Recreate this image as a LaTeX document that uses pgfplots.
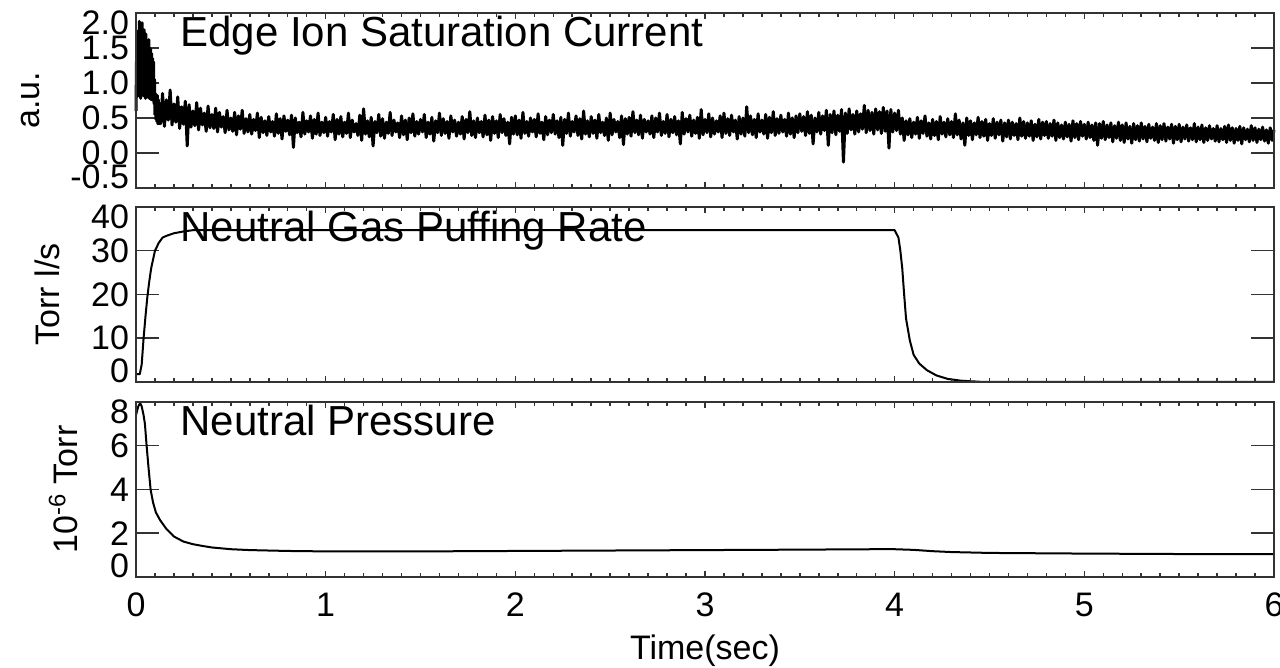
\documentclass[border=0pt]{standalone}
\usepackage{pgfplots}
\pgfplotsset{compat=1.18}
\usepackage{pgfplotstable}
\usepackage{fontspec}
\setmainfont{Liberation Sans}
\newcommand\dn[1]{\raisebox{-4.75pt}[\height][\depth]{#1}}
\newcommand\up[1]{\raisebox{5.5pt}[\height][\depth]{#1}}
% Edge ion saturation current, from t = 0.12 s in steps of 0.01 s
\pgfplotstableread[header=false,row sep=\\]{
0.72\\0.42\\0.85\\0.38\\0.76\\0.47\\0.90\\0.40\\
0.70\\0.44\\0.80\\0.35\\0.66\\0.41\\0.74\\0.10\\0.69\\0.37\\
0.60\\0.39\\0.72\\0.33\\0.64\\0.40\\0.57\\0.31\\0.67\\0.36\\
0.55\\0.35\\0.64\\0.30\\0.58\\0.37\\0.52\\0.29\\0.61\\0.33\\
0.50\\0.31\\0.58\\0.26\\0.53\\0.34\\0.61\\0.28\\0.49\\0.30\\
0.55\\0.27\\0.48\\0.32\\0.57\\0.22\\0.51\\0.29\\0.46\\0.25\\
0.52\\0.30\\0.45\\0.24\\0.56\\0.28\\0.49\\0.20\\0.53\\0.31\\
0.47\\0.26\\0.54\\0.08\\0.50\\0.29\\0.44\\0.23\\0.58\\0.27\\
0.46\\0.30\\0.53\\0.21\\0.48\\0.27\\0.57\\0.25\\0.44\\0.29\\
0.51\\0.24\\0.45\\0.30\\0.55\\0.19\\0.48\\0.27\\0.52\\0.23\\
0.44\\0.28\\0.57\\0.22\\0.47\\0.30\\0.42\\0.25\\0.54\\0.18\\
0.63\\0.27\\0.46\\0.23\\0.51\\0.10\\0.45\\0.29\\0.55\\0.24\\
0.49\\0.21\\0.44\\0.28\\0.58\\0.25\\0.47\\0.30\\0.43\\0.22\\
0.53\\0.26\\0.47\\0.19\\0.50\\0.29\\0.56\\0.24\\0.45\\0.27\\
0.48\\0.30\\0.55\\0.22\\0.44\\0.27\\0.51\\0.17\\0.46\\0.29\\
0.57\\0.25\\0.49\\0.28\\0.45\\0.21\\0.53\\0.30\\0.47\\0.24\\
0.44\\0.27\\0.52\\0.20\\0.48\\0.29\\0.59\\0.25\\0.46\\0.22\\
0.50\\0.29\\0.45\\0.23\\0.54\\0.26\\0.47\\0.18\\0.52\\0.28\\
0.46\\0.22\\0.55\\0.29\\0.49\\0.25\\0.44\\0.13\\0.51\\0.27\\
0.53\\0.26\\0.47\\0.21\\0.58\\0.28\\0.45\\0.24\\0.50\\0.30\\
0.48\\0.23\\0.56\\0.28\\0.44\\0.19\\0.52\\0.26\\0.47\\0.29\\
0.55\\0.27\\0.46\\0.22\\0.51\\0.11\\0.48\\0.28\\0.57\\0.24\\
0.45\\0.30\\0.53\\0.25\\0.49\\0.20\\0.60\\0.27\\0.46\\0.23\\
0.52\\0.28\\0.47\\0.21\\0.55\\0.29\\0.44\\0.25\\0.50\\0.18\\
0.57\\0.26\\0.48\\0.30\\0.45\\0.22\\0.53\\0.12\\0.49\\0.27\\
0.51\\0.24\\0.59\\0.29\\0.47\\0.26\\0.54\\0.21\\0.48\\0.30\\
0.46\\0.27\\0.53\\0.22\\0.50\\0.30\\0.57\\0.25\\0.45\\0.28\\
0.55\\0.23\\0.48\\0.29\\0.52\\0.26\\0.46\\0.13\\0.58\\0.27\\
0.49\\0.30\\0.54\\0.24\\0.47\\0.28\\0.51\\0.21\\0.62\\0.26\\
0.48\\0.29\\0.56\\0.23\\0.50\\0.27\\0.46\\0.30\\0.53\\0.22\\
0.57\\0.28\\0.49\\0.25\\0.54\\0.30\\0.47\\0.20\\0.52\\0.27\\
0.50\\0.24\\0.66\\0.29\\0.53\\0.26\\0.48\\0.22\\0.56\\0.30\\
0.47\\0.27\\0.55\\0.21\\0.51\\0.29\\0.59\\0.25\\0.49\\0.28\\
0.54\\0.30\\0.48\\0.24\\0.57\\0.27\\0.50\\0.22\\0.53\\0.29\\
0.56\\0.31\\0.52\\0.25\\0.59\\0.28\\0.54\\0.13\\0.50\\0.30\\
0.58\\0.27\\0.53\\0.32\\0.61\\0.11\\0.55\\0.29\\0.60\\0.26\\
0.54\\0.31\\0.62\\-0.13\\0.57\\0.28\\0.63\\0.33\\0.55\\0.27\\
0.60\\0.30\\0.56\\0.34\\0.68\\0.29\\0.61\\0.32\\0.58\\0.27\\
0.63\\0.33\\0.59\\0.28\\0.65\\0.31\\0.60\\0.07\\0.62\\0.30\\
0.57\\0.32\\0.61\\0.27\\0.50\\0.18\\0.46\\0.26\\0.49\\0.22\\
0.44\\0.27\\0.51\\0.21\\0.46\\0.28\\0.53\\0.24\\0.43\\0.20\\
0.48\\0.25\\0.45\\0.19\\0.52\\0.27\\0.44\\0.23\\0.49\\0.26\\
0.45\\0.22\\0.56\\0.26\\0.47\\0.20\\0.43\\0.11\\0.50\\0.25\\
0.46\\0.19\\0.43\\0.26\\0.51\\0.22\\0.45\\0.24\\0.48\\0.18\\
0.42\\0.25\\0.49\\0.21\\0.44\\0.26\\0.47\\0.17\\0.43\\0.23\\
0.47\\0.20\\0.44\\0.25\\0.42\\0.19\\0.50\\0.24\\0.45\\0.21\\
0.43\\0.24\\0.46\\0.18\\0.41\\0.23\\0.48\\0.20\\0.44\\0.25\\
0.45\\0.21\\0.42\\0.24\\0.47\\0.18\\0.43\\0.22\\0.40\\0.20\\
0.44\\0.23\\0.41\\0.17\\0.46\\0.22\\0.42\\0.19\\0.45\\0.24\\
0.41\\0.20\\0.44\\0.22\\0.40\\0.18\\0.43\\0.11\\0.42\\0.21\\
0.45\\0.19\\0.40\\0.22\\0.43\\0.16\\0.39\\0.21\\0.44\\0.18\\
0.40\\0.15\\0.43\\0.20\\0.38\\0.14\\0.42\\0.19\\0.39\\0.17\\
0.43\\0.20\\0.38\\0.16\\0.41\\0.21\\0.37\\0.18\\0.42\\0.15\\
0.39\\0.19\\0.42\\0.17\\0.37\\0.20\\0.41\\0.14\\0.38\\0.19\\
0.41\\0.16\\0.37\\0.20\\0.40\\0.17\\0.36\\0.19\\0.42\\0.16\\
0.37\\0.19\\0.40\\0.15\\0.36\\0.18\\0.39\\0.20\\0.35\\0.17\\
0.39\\0.16\\0.35\\0.19\\0.38\\0.15\\0.40\\0.18\\0.36\\0.14\\
0.35\\0.18\\0.38\\0.13\\0.36\\0.19\\0.34\\0.16\\0.39\\0.18\\
0.36\\0.15\\0.34\\0.19\\0.37\\0.17\\0.33\\0.14\\0.36\\0.18\\
0.33\\
}\ionsat
\pgfplotsset{
  base/.style={
    scale only axis, width=569pt, height=87.5pt,
    xmin=0, xmax=6, tick align=inside,
    axis line style={line width=0.75pt, black!80},
    tick style={line width=0.75pt, black!80},
    tick label style={font=\fontsize{17}{20}\selectfont},
    label style={font=\fontsize{17}{20}\selectfont},
    /pgf/number format/assume math mode=true,
    clip=false,
  },
  panelY/.style={base, xtick=\empty, ytick pos=both, major tick length=11.5pt},
  panelX/.style={base, ytick=\empty, xtick={0,1,2,3,4,5,6}, minor x tick num=9,
    xtick pos=both, major tick length=3pt, minor tick length=2pt,
    xticklabel style={yshift=-4.5pt}},
}
\tikzset{ttl/.style={anchor=base west, inner sep=0pt, font=\fontsize{21}{25}\selectfont}}
\begin{document}
\begin{tikzpicture}
% ---------- Panel 1
\begin{axis}[panelY, at={(68pt,240pt)}, anchor=south west,
  ymin=-0.5, ymax=2, ytick={-0.5,0,0.5,1,1.5,2},
  yticklabels={\up{-0.5},0.0,0.5,1.0,1.5,\dn{2.0}},
  ylabel={a.u.}, ylabel style={at={(axis description cs:-0.093,0.5)}, anchor=center}]
\addplot[black, line width=1.5pt, line join=round, mark=none] coordinates {
(0,0.60) (0.0025,1.30) (0.005,0.80) (0.0075,1.55) (0.01,0.90) (0.0125,1.75)
(0.015,0.82) (0.0175,1.88) (0.02,0.95) (0.0225,1.84) (0.025,0.78) (0.0275,1.72)
(0.03,0.90) (0.0325,1.86) (0.035,1.00) (0.0375,1.68) (0.04,0.82) (0.0425,1.76)
(0.045,0.92) (0.0475,1.60) (0.05,0.78) (0.0525,1.70) (0.055,0.88) (0.0575,1.58)
(0.06,0.80) (0.0625,1.55) (0.065,0.90) (0.0675,1.62) (0.07,0.78) (0.0725,1.50)
(0.075,0.85) (0.0775,1.48) (0.08,0.76) (0.0825,1.42) (0.085,0.82) (0.0875,1.35)
(0.09,0.75) (0.0925,1.30) (0.095,0.70) (0.0975,1.05) (0.1,0.55) (0.1025,0.85)
(0.105,0.48) (0.1075,0.80) (0.11,0.45) (0.1125,0.82) (0.115,0.42) (0.1175,0.76)
(0.12,0.40)
};
\addplot[black, line width=1.5pt, line join=round, mark=none]
  table[x expr=0.12+\coordindex*0.01, y index=0] {\ionsat};
\node[ttl] at (rel axis cs:0.0387,0.807) {Edge Ion Saturation Current};
\end{axis}
\begin{axis}[panelX, at={(68pt,240pt)}, anchor=south west,
  ymin=-0.5, ymax=2, xticklabels={}]
\end{axis}
% ---------- Panel 2
\begin{axis}[panelY, at={(68pt,143pt)}, anchor=south west,
  ymin=0, ymax=40, ytick={0,10,20,30,40},
  yticklabels={\up{0},10,20,30,\dn{40}},
  ylabel={Torr l/s}, ylabel style={at={(axis description cs:-0.078,0.5)}, anchor=center}]
\node[ttl] at (rel axis cs:0.0387,0.80) {Neutral Gas Puffing Rate};
\addplot[black, line width=1pt, line join=round, mark=none] coordinates {
(0,1.8) (0.02,1.8) (0.03,4) (0.04,10) (0.05,15) (0.06,19.5) (0.07,23) (0.08,26)
(0.09,28) (0.10,30) (0.12,31.8) (0.14,33) (0.16,33.4) (0.2,34.0) (0.25,34.4)
(0.3,34.7) (4.0,34.7) (4.02,33) (4.03,30) (4.04,26) (4.05,20) (4.06,14.5)
(4.08,9.5) (4.10,6.2) (4.13,4.2) (4.17,2.7) (4.22,1.5) (4.28,0.7) (4.35,0.3)
(4.45,0.05) (4.5,0) (6,0)
};
\end{axis}
\begin{axis}[panelX, at={(68pt,143pt)}, anchor=south west,
  ymin=0, ymax=40, xticklabels={}]
\end{axis}
% ---------- Panel 3
\begin{axis}[panelY, at={(68pt,45.5pt)}, anchor=south west,
  ymin=0, ymax=8, ytick={0,2,4,6,8},
  yticklabels={\up{0},2,4,6,\dn{8}},
  ylabel={10\textsuperscript{-6} Torr}, ylabel style={at={(axis description cs:-0.0637,0.5)}, anchor=center}]
\node[ttl] at (rel axis cs:0.0387,0.811) {Neutral Pressure};
\addplot[black, line width=1pt, line join=round, mark=none] coordinates {
(0,7.4) (0.012,7.8) (0.022,7.95) (0.03,7.8) (0.04,7.4) (0.047,7.0) (0.056,6.0)
(0.066,5.0) (0.077,4.0) (0.09,3.4) (0.105,2.95) (0.127,2.6) (0.16,2.2) (0.2,1.85)
(0.25,1.62) (0.3,1.5) (0.35,1.42) (0.4,1.35) (0.5,1.27) (0.6,1.23) (0.8,1.19)
(1.0,1.17) (1.5,1.17) (2.0,1.19) (2.5,1.21) (3.0,1.23) (3.5,1.25) (3.9,1.27)
(4.0,1.27) (4.1,1.24) (4.2,1.18) (4.3,1.14) (4.5,1.10) (5.0,1.07) (5.5,1.05) (6.0,1.04)
};
\end{axis}
\begin{axis}[panelX, at={(68pt,45.5pt)}, anchor=south west,
  ymin=0, ymax=8,
  xlabel={Time(sec)}, xlabel style={at={(axis description cs:0.5,-0.469)}, anchor=base}]
\end{axis}
\pgfresetboundingbox
\path[use as bounding box] (0pt,0pt) rectangle (640pt,334pt);
\end{tikzpicture}
\end{document}
